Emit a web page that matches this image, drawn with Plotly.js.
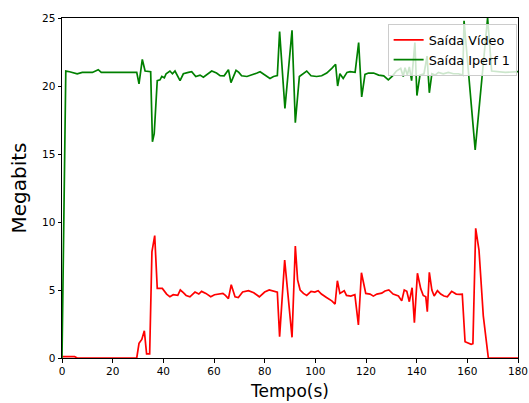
<!DOCTYPE html>
<html>
<head>
<meta charset="utf-8">
<script src="https://cdn.plot.ly/plotly-3.0.1.min.js"></script>
<style>html,body{margin:0;padding:0;background:#fff;}#chart{width:529px;height:403px;}</style>
</head>
<body>
<div id="chart"></div>
<script>
// Saída Vídeo (red)
const videoX = [0, 5, 6, 29.5, 30.4, 31.5, 32.5, 33.4, 34.6, 35.5, 36.6, 37.6, 39.6, 41.3, 42.6, 43.9, 45.7, 46.7, 47.9, 49, 50.5, 52.5, 54, 55.1, 56.8, 58.7, 60.2, 62.4, 63.5, 64.5, 65.7, 66.8, 68.3, 69.6, 71.3, 73.6, 75.7, 77.9, 80, 81.8, 83.4, 85, 85.9, 87.9, 90.8, 92.1, 93, 94, 95.3, 96.6, 98.3, 99.8, 101.1, 102.4, 104.4, 106.5, 107.8, 108.7, 109.7, 111.4, 112.3, 114, 115.6, 117, 118.2, 119.9, 121.6, 122.9, 124.3, 126.2, 127.5, 129, 130.7, 132.8, 134.1, 135.1, 136.1, 137.1, 138.2, 139.1, 140.3, 141.6, 142.6, 143.6, 144.2, 145, 146, 146.9, 148.2, 149.5, 150.8, 152.1, 153.8, 155.6, 156.9, 158, 159.1, 160.4, 161.5, 162.2, 163.3, 164.6, 166.3, 168.3, 180];
const videoY = [0.1, 0.1, 0, 0, 1.08, 1.37, 2.0, 0.3, 0.3, 7.8, 9.0, 5.12, 5.12, 4.7, 4.5, 4.65, 4.6, 5.0, 4.8, 4.6, 4.5, 4.85, 4.7, 4.9, 4.75, 4.5, 4.65, 4.7, 4.75, 4.6, 4.36, 5.39, 4.5, 4.45, 4.85, 4.95, 4.8, 4.5, 4.85, 5.0, 4.9, 4.84, 1.57, 7.2, 1.52, 8.24, 5.74, 5.0, 4.75, 4.6, 4.9, 4.85, 4.95, 4.7, 4.45, 4.2, 3.97, 5.68, 4.75, 4.95, 4.6, 4.55, 4.65, 2.43, 6.27, 4.75, 4.7, 4.55, 4.7, 4.77, 4.93, 5.0, 4.7, 4.56, 4.2, 5.0, 4.9, 4.14, 5.17, 2.6, 6.23, 5.1, 4.6, 4.5, 3.4, 6.3, 5.0, 4.56, 4.95, 4.7, 4.56, 4.5, 4.9, 4.7, 4.68, 4.7, 1.2, 1.1, 1.0, 1.05, 9.53, 7.94, 3.1, 0, 0];

// Saída Iperf 1 (green)
const iperfX = [0, 1.5, 3, 6, 8, 12, 14.3, 15.5, 18, 22, 26, 29.5, 30.4, 31.7, 32.8, 35, 35.7, 36.4, 37.6, 38.7, 39.4, 40.4, 41.1, 42.6, 43.6, 44.6, 46.6, 47.9, 49.9, 51.2, 52.8, 54.5, 55.8, 57.1, 59.1, 61, 62.4, 64, 65.7, 66.7, 68.7, 69.8, 70.9, 73, 75, 77, 78.2, 80, 82.1, 83.5, 85, 85.9, 88, 90.8, 92.1, 93.7, 95, 96.6, 98.3, 100.5, 102.5, 104.5, 106.5, 108, 108.8, 109.7, 111, 112.5, 113.7, 115.7, 117.1, 118.3, 119.6, 121, 123, 125, 127, 128.8, 130.5, 132, 133.7, 134.7, 135.4, 136.3, 137.1, 138, 139.3, 140.1, 141.3, 142.9, 144.1, 145, 146, 147.3, 148.6, 150.5, 152.5, 154.5, 156.5, 158.2, 158.7, 163.1, 168, 169.6, 175, 180];
const iperfY = [0, 21.1, 21.05, 20.9, 21.0, 21.0, 21.2, 21.0, 21.0, 21.0, 21.0, 21.0, 20.15, 21.95, 21.1, 21.05, 15.9, 16.5, 20.4, 20.45, 20.7, 20.6, 20.9, 21.1, 20.9, 21.1, 20.4, 20.9, 21.0, 21.05, 20.7, 20.8, 20.65, 20.85, 21.1, 20.95, 20.76, 20.75, 21.2, 20.25, 21.15, 21.0, 20.75, 20.7, 20.8, 20.95, 21.05, 20.8, 20.55, 20.7, 20.76, 24.0, 18.35, 24.1, 17.3, 20.7, 20.9, 21.1, 20.75, 20.7, 20.75, 20.95, 21.3, 21.6, 20.0, 20.9, 20.55, 21.0, 21.05, 21.0, 23.2, 19.2, 20.85, 20.95, 20.95, 20.8, 20.75, 20.45, 20.75, 21.1, 21.3, 20.7, 21.35, 20.8, 21.4, 20.4, 23.2, 19.3, 20.8, 20.9, 22.2, 19.5, 20.9, 20.8, 21.0, 20.9, 21.0, 20.9, 20.9, 20.8, 24.8, 15.3, 25.0, 21.1, 21.0, 21.05];

const xTicks = [0, 20, 40, 60, 80, 100, 120, 140, 160, 180];
const yTicks = [0, 5, 10, 15, 20, 25];

const font = 'DejaVu Sans, sans-serif';

const traces = [
  {x: videoX, y: videoY, type: 'scatter', mode: 'lines', name: 'Saída Vídeo',
   line: {color: '#ff0000', width: 1.7}},
  {x: iperfX, y: iperfY, type: 'scatter', mode: 'lines', name: 'Saída Iperf 1',
   line: {color: '#008000', width: 1.7}}
];

const axisCommon = {
  showgrid: false, zeroline: false, showline: true, linecolor: '#000', linewidth: 1,
  mirror: true, ticks: 'outside', ticklen: 3.5, tickwidth: 1, tickcolor: '#000',
  tickfont: {family: font, size: 10.5, color: '#000'}
};

const layout = {
  width: 529, height: 403,
  margin: {l: 62, r: 11, t: 18, b: 45},
  paper_bgcolor: '#fff', plot_bgcolor: '#fff',
  showlegend: true,
  legend: {x: 0.997, y: 0.982, xanchor: 'right', yanchor: 'top',
    bgcolor: 'rgba(255,255,255,0.8)', bordercolor: '#cccccc', borderwidth: 1,
    font: {family: font, size: 12.8, color: '#000'}, itemwidth: 30, tracegroupgap: 0},
  xaxis: Object.assign({}, axisCommon, {range: [0, 180], tickvals: xTicks,
    title: {text: 'Tempo(s)', font: {family: font, size: 17, color: '#000'}, standoff: 9}}),
  yaxis: Object.assign({}, axisCommon, {range: [0, 25], tickvals: yTicks,
    title: {text: 'Megabits', font: {family: font, size: 20, color: '#000'}, standoff: 10}})
};

Plotly.newPlot('chart', traces, layout, {displayModeBar: false, staticPlot: true});
</script>
</body>
</html>
